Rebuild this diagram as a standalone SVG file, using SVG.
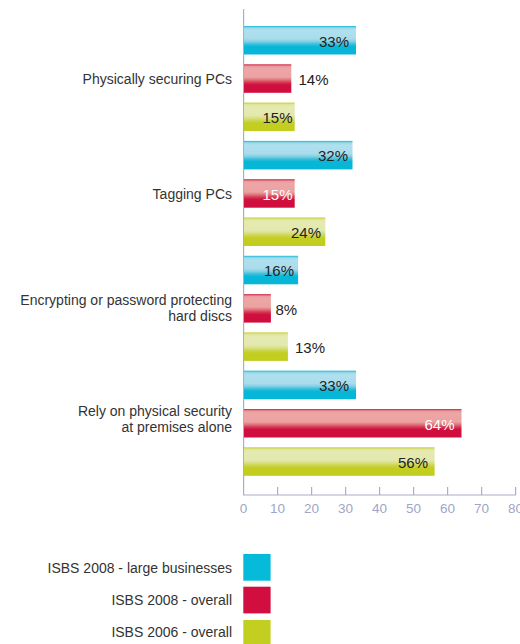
<svg xmlns="http://www.w3.org/2000/svg" width="520" height="644" viewBox="0 0 520 644">
<defs>
<linearGradient id="gc" x1="0" y1="0" x2="0" y2="1">
<stop offset="0" stop-color="#13b9d8"/><stop offset="0.07" stop-color="#9fd9ea"/><stop offset="0.15" stop-color="#b0e0ee"/><stop offset="0.45" stop-color="#a8dcec"/><stop offset="0.55" stop-color="#7fcfe4"/><stop offset="0.63" stop-color="#3fc0dd"/><stop offset="0.72" stop-color="#08b7d8"/><stop offset="1" stop-color="#06b6d7"/>
</linearGradient>
<linearGradient id="gr" x1="0" y1="0" x2="0" y2="1">
<stop offset="0" stop-color="#d21b45"/><stop offset="0.07" stop-color="#e89a9a"/><stop offset="0.15" stop-color="#eca6a5"/><stop offset="0.45" stop-color="#eba3a2"/><stop offset="0.55" stop-color="#e0707a"/><stop offset="0.63" stop-color="#d63a55"/><stop offset="0.72" stop-color="#d00f3e"/><stop offset="1" stop-color="#cf0d3e"/>
</linearGradient>
<linearGradient id="gg" x1="0" y1="0" x2="0" y2="1">
<stop offset="0" stop-color="#c5d02a"/><stop offset="0.07" stop-color="#dfe59e"/><stop offset="0.15" stop-color="#e5eab2"/><stop offset="0.45" stop-color="#e3e8ae"/><stop offset="0.55" stop-color="#d8df80"/><stop offset="0.63" stop-color="#ccd64e"/><stop offset="0.72" stop-color="#c3ce22"/><stop offset="1" stop-color="#c2cd20"/>
</linearGradient>
</defs>
<style>
text{font-family:"Liberation Sans",Arial,sans-serif;}
.cat{font-size:14px;fill:#333;text-anchor:end;}
.v{font-size:15px;fill:#222;}
.vi{text-anchor:end;}
.vw{fill:#fff;text-anchor:end;}
.tk{font-size:13.5px;fill:#a0a6c6;text-anchor:middle;}
.ax{stroke:#a9aecb;stroke-width:1.2;fill:none;}
.c{fill:url(#gc);} .r{fill:url(#gr);} .g{fill:url(#gg);}
</style>
<rect width="520" height="644" fill="#fff"/>
<g id="axis">
<line class="ax" x1="243.6" y1="9" x2="243.6" y2="495"/>
<line class="ax" x1="243" y1="495" x2="516" y2="495"/>
<path class="ax" d="M277.6 487V495M311.6 487V495M345.6 487V495M379.6 487V495M413.6 487V495M447.6 487V495M481.6 487V495M515.6 487V495"/>
<text class="tk" x="243.6" y="513">0</text>
<text class="tk" x="277.6" y="513">10</text>
<text class="tk" x="311.6" y="513">20</text>
<text class="tk" x="345.6" y="513">30</text>
<text class="tk" x="379.6" y="513">40</text>
<text class="tk" x="413.6" y="513">50</text>
<text class="tk" x="447.6" y="513">60</text>
<text class="tk" x="481.6" y="513">70</text>
<text class="tk" x="515.6" y="513">80</text>
</g>
<g id="cat1">
<text class="cat" x="232" y="84">Physically securing PCs</text>
<rect class="c" x="244" y="26" width="112" height="28.5"/>
<text class="v vi" x="349" y="46.5">33%</text>
<rect class="r" x="244" y="64.3" width="47.3" height="28.5"/>
<text class="v" x="298.5" y="84.8">14%</text>
<rect class="g" x="244" y="102.6" width="50.7" height="28.5"/>
<text class="v vi" x="292.5" y="123.1">15%</text>
</g>
<g id="cat2">
<text class="cat" x="232" y="198.5">Tagging PCs</text>
<rect class="c" x="244" y="140.9" width="108.5" height="28.5"/>
<text class="v vi" x="348" y="161.4">32%</text>
<rect class="r" x="244" y="179.2" width="50.7" height="28.5"/>
<text class="v vw" x="292.5" y="199.7">15%</text>
<rect class="g" x="244" y="217.5" width="81.3" height="28.5"/>
<text class="v vi" x="321" y="238">24%</text>
</g>
<g id="cat3">
<text class="cat" x="232" y="305">Encrypting or password protecting</text>
<text class="cat" x="232" y="320.5">hard discs</text>
<rect class="c" x="244" y="255.8" width="54.1" height="28.5"/>
<text class="v vi" x="294" y="276.3">16%</text>
<rect class="r" x="244" y="294.1" width="26.9" height="28.5"/>
<text class="v" x="275.5" y="314.6">8%</text>
<rect class="g" x="244" y="332.4" width="43.9" height="28.5"/>
<text class="v" x="295" y="352.9">13%</text>
</g>
<g id="cat4">
<text class="cat" x="232" y="416">Rely on physical security</text>
<text class="cat" x="232" y="431.5">at premises alone</text>
<rect class="c" x="244" y="370.7" width="112" height="28.5"/>
<text class="v vi" x="349" y="391.2">33%</text>
<rect class="r" x="244" y="409" width="217.5" height="28.5"/>
<text class="v vw" x="454.5" y="429.5">64%</text>
<rect class="g" x="244" y="447.3" width="190.6" height="28.5"/>
<text class="v vi" x="428" y="467.8">56%</text>
</g>
<g id="legend">
<text class="cat" x="232" y="573">ISBS 2008 - large businesses</text>
<rect x="243.3" y="554" width="27.3" height="26.7" fill="#06bad9"/>
<text class="cat" x="232" y="605">ISBS 2008 - overall</text>
<rect x="243.3" y="586.7" width="27.3" height="26.7" fill="#d20d3f"/>
<text class="cat" x="232" y="637">ISBS 2006 - overall</text>
<rect x="243.3" y="620" width="27.3" height="26.7" fill="#c2cf21"/>
</g>
</svg>
